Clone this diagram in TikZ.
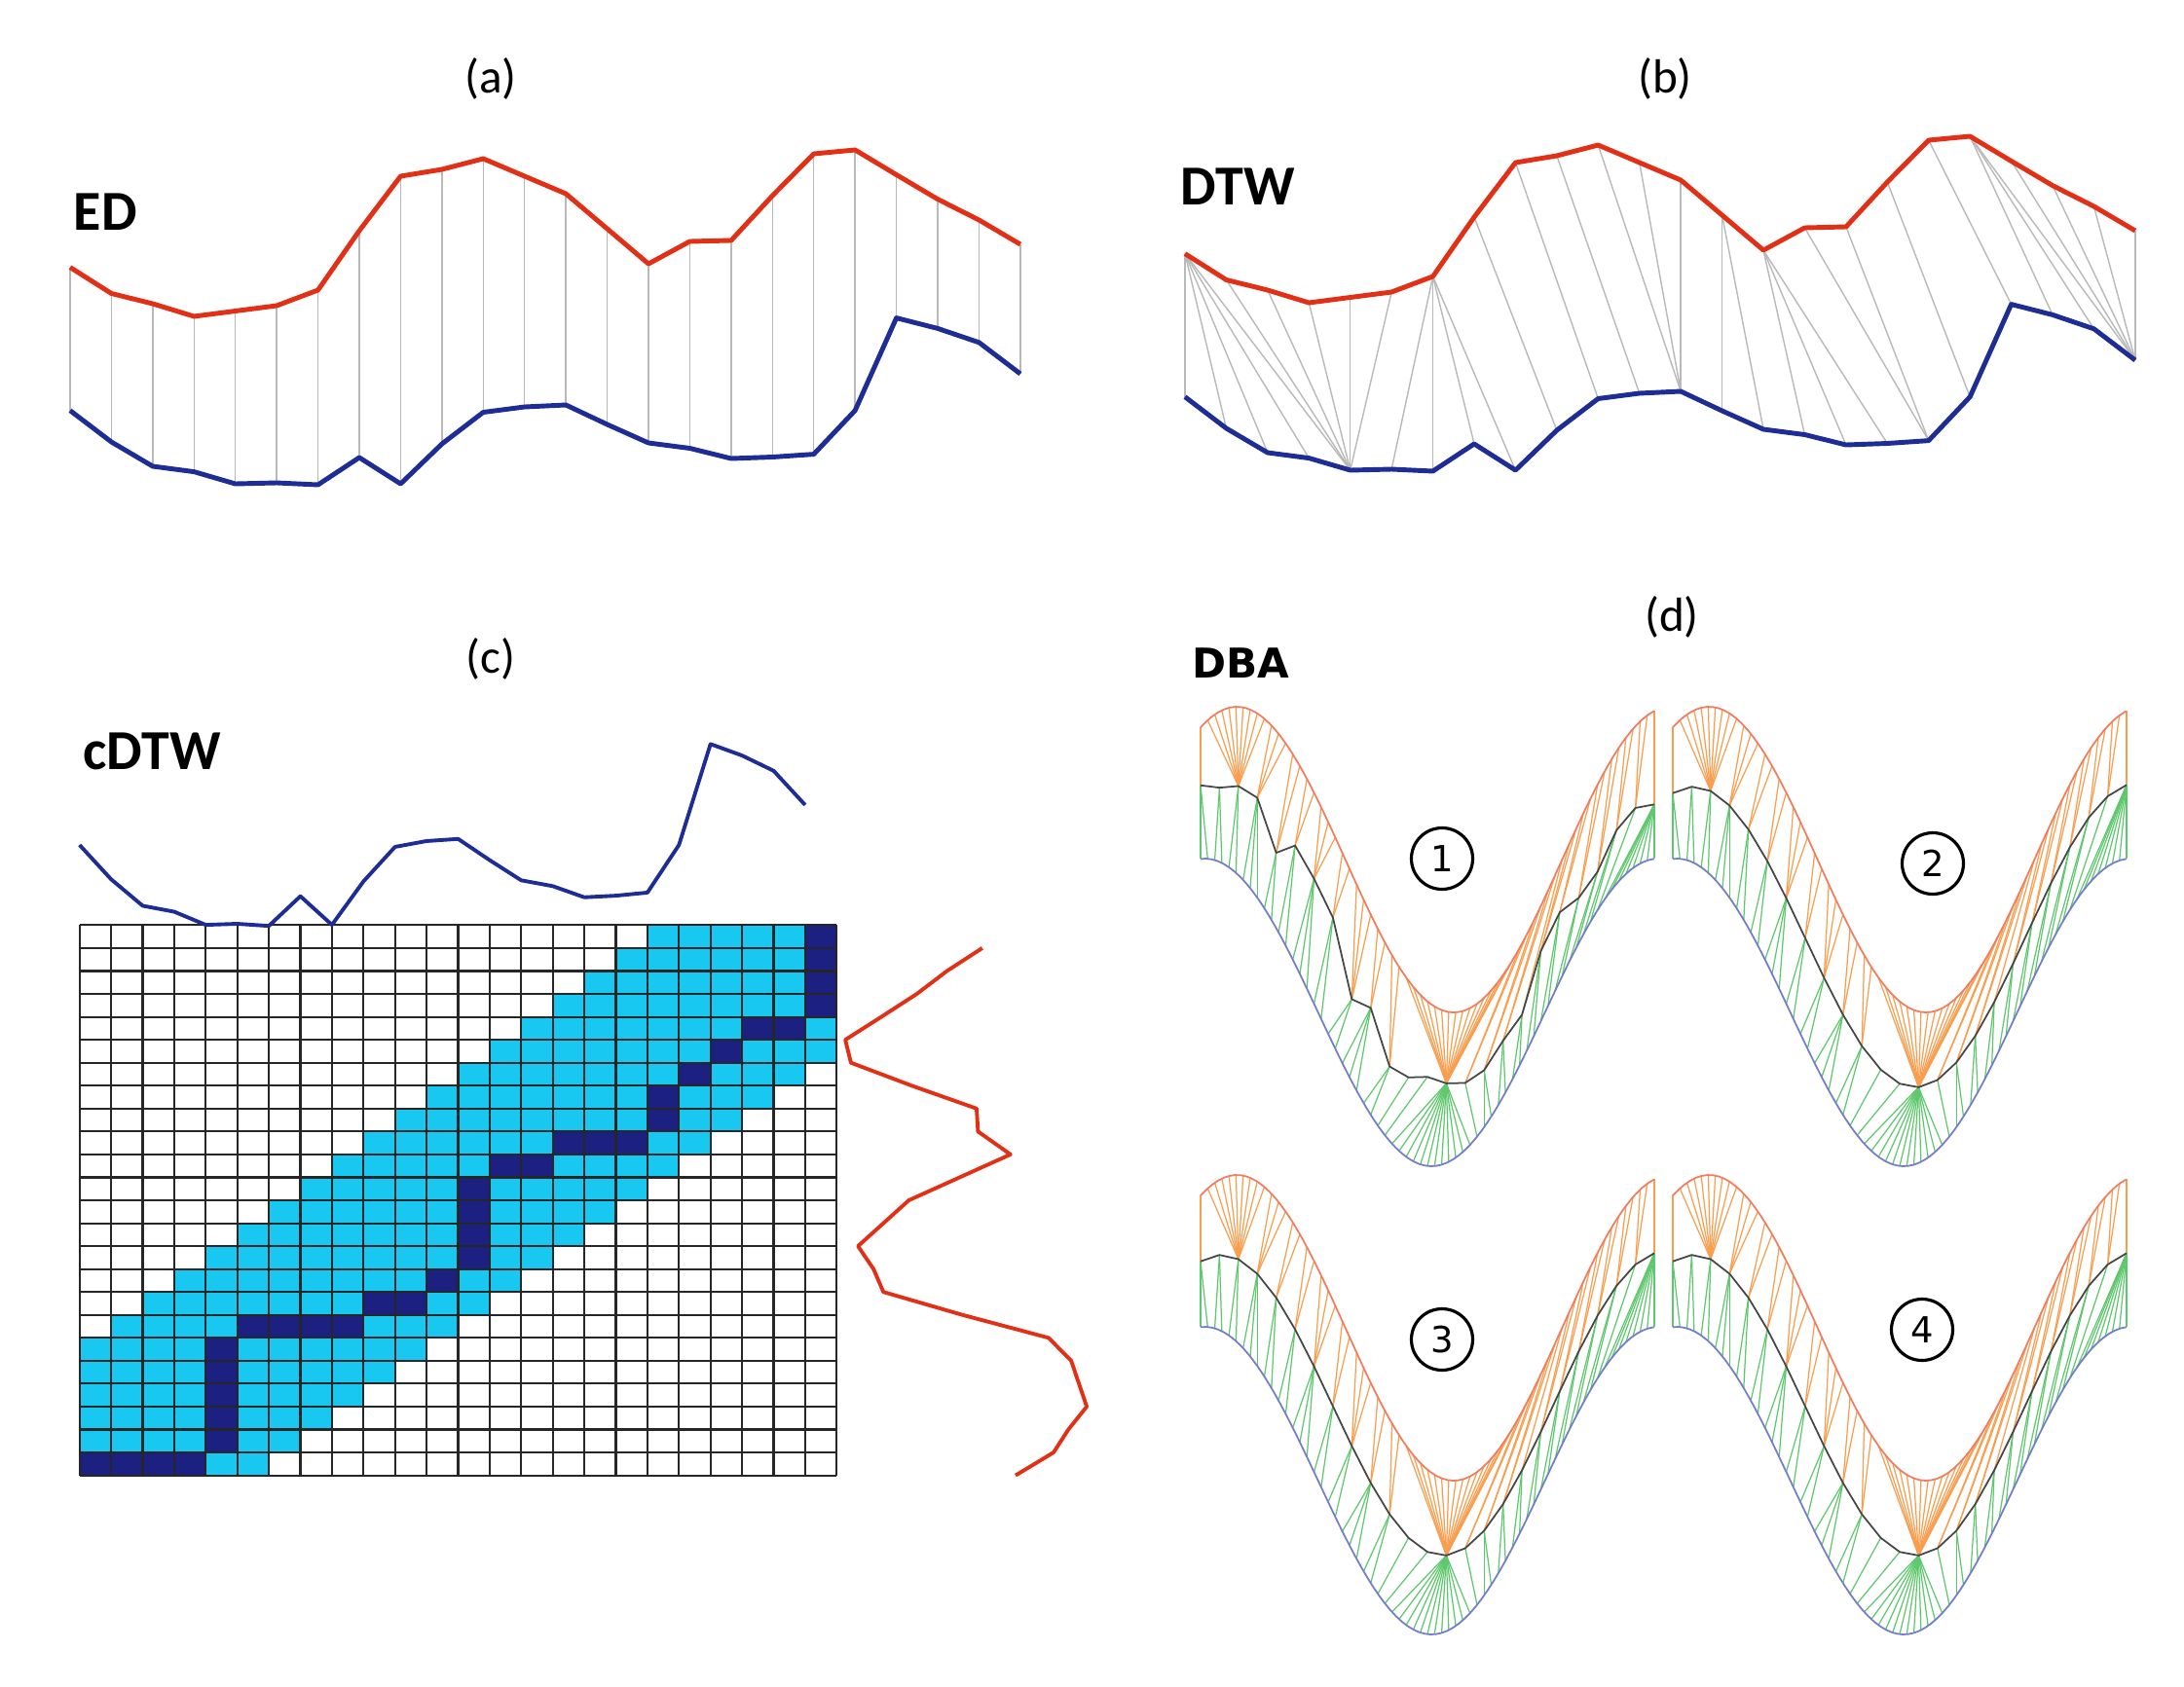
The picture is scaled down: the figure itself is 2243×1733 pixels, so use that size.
\documentclass[tikz,border=0pt]{standalone}
\usepackage{fontspec}
\setmainfont{Carlito}
\newfontfamily\dbafont{DejaVu Sans}

\definecolor{serred}{RGB}{226,48,22}
\definecolor{serblue}{RGB}{30,45,150}
\definecolor{linkgray}{RGB}{185,185,185}
\definecolor{bandcyan}{RGB}{24,200,240}
\definecolor{pathnavy}{RGB}{28,32,128}
\definecolor{dbatop}{RGB}{240,125,95}
\definecolor{dbaorange}{RGB}{248,158,78}
\definecolor{dbagreen}{RGB}{95,200,110}
\definecolor{dbabottom}{RGB}{115,125,200}
\definecolor{dbamid}{RGB}{70,70,70}

% the two series, y in picture units
\def\redvals{274.6,301.5,312,325,319.5,314,298,237,181,174,163,181,199,235,271,248,247,201,158,154,179.5,204.6,226,251}
\def\bluevals{421.7,454,479,484.6,497,496,498,470,497,456,423.5,418,416,436,455,460.5,471,469.5,466.6,421.7,326.6,337.4,351.8,384}
% jagged average in the first DBA step
\def\jaglist{-8,1,-5,-8,24,-16,-20,-21,22,-7,21,8,-7,-4,3,8,5,13,-13,-11,15,25,13,12,20}

\begin{document}
\begin{tikzpicture}[x=0.1mm,y=-0.1mm,
  declare function={
    topc(\x)=883-157*cos(376.6*(\x-0.08));
    botc(\x)=1040-158*cos(360*(\x-0.009));
    omap(\x)=4.15*min(max(\x,0),0.02)+1.087*min(max(\x-0.13,0),0.31)+12.17*min(max(\x-0.44,0),0.01)+1.432*min(max(\x-0.68,0),0.32);
    gmap(\x)=1.15*min(max(\x,0),0.4)+4.085*min(max(\x-0.4,0),0.02)+1.394*min(max(\x-0.58,0),0.3)+4*min(max(\x-0.88,0),0.01);
  }]
\tikzstyle{every node}+=[inner sep=0pt]
\tikzstyle{caption}=[font=\fontsize{14}{17}\selectfont]
\tikzstyle{method}=[font=\fontsize{16.5}{19}\selectfont\bfseries, anchor=west]
\tikzstyle{redser}=[serred, line width=1.4pt, line join=round]
\tikzstyle{blueser}=[serblue, line width=1.4pt, line join=round]
\tikzstyle{link}=[linkgray, line width=0.4pt]
\tikzstyle{gridline}=[black!85, line width=0.6pt]
\tikzstyle{orangelink}=[dbaorange, line width=0.35pt]
\tikzstyle{greenlink}=[dbagreen, line width=0.35pt]
\tikzstyle{numcirc}=[draw, circle, line width=0.9pt, minimum size=6.3mm, font=\dbafont\fontsize{10.5}{12}\selectfont]

\useasboundingbox (0,0) rectangle (2243,1733);
\fill [white] (0,0) rectangle (2243,1733);

% points of the series
\foreach \r [count=\i from 0] in \redvals {
  \coordinate (ra\i) at ({72+42.43*\i},\r);
  \coordinate (rb\i) at ({1217+42.43*\i},{\r-14});
  \coordinate (rc\i) at ({1043+1.45*(\r-274.6)},{1515.6-23.55*\i});
}
\foreach \b [count=\i from 0] in \bluevals {
  \coordinate (ba\i) at ({72+42.43*\i},\b);
  \coordinate (bb\i) at ({1217+42.43*\i},{\b-14});
  \coordinate (bc\i) at ({81.7+32.4*\i},{868+1.09*(\b-421.7)});
}

% captions
\node [caption] (capa) at (504,81) {(a)};
\node [caption] (capb) at (1710,81) {(b)};
\node [caption] (capc) at (504,677) {(c)};
\node [caption] (capd) at (1717,634) {(d)};
\node [method] (ed) at (75,218) {ED};
\node [method] (dtw) at (1212,192) {DTW};
\node [method] (cdtw) at (85,772) {cDTW};
\node [anchor=west, font=\dbafont\fontsize{12}{14}\selectfont\bfseries] (dba) at (1224,681) {DBA};

% (a) euclidean
\foreach \i in {0,...,23}
  \draw [link] (ra\i) -- (ba\i);
\draw [redser] (ra0) \foreach \i in {1,...,23} {-- (ra\i)};
\draw [blueser] (ba0) \foreach \i in {1,...,23} {-- (ba\i)};

% (b) warping path
\foreach \i/\j in {0/0,0/1,0/2,0/3,0/4,1/4,2/4,3/4,4/4,5/4,6/5,6/6,6/7,6/8,7/9,8/10,9/11,10/12,11/12,12/12,13/13,13/14,14/15,14/16,14/17,15/18,16/18,17/19,18/20,19/21,19/22,19/23,20/23,21/23,22/23,23/23}
  \draw [link] (rb\i) -- (bb\j);
\draw [redser] (rb0) \foreach \i in {1,...,23} {-- (rb\i)};
\draw [blueser] (bb0) \foreach \i in {1,...,23} {-- (bb\i)};

% (c) cost matrix with band
\foreach \r in {0,...,23} {
  \pgfmathtruncatemacro\lo{max(0,\r-5)}
  \pgfmathtruncatemacro\hi{min(23,\r+5)}
  \foreach \c in {\lo,...,\hi}
    \fill [bandcyan] ({81.7+32.4*\c},{1515.6-23.55*\r}) rectangle ({81.7+32.4*(\c+1)},{1515.6-23.55*(\r+1)});
}
\foreach \c/\r in {0/0,1/0,2/0,3/0,4/1,4/2,4/3,4/4,4/5,5/6,6/6,7/6,8/6,9/7,10/7,11/8,12/9,12/10,12/11,12/12,13/13,14/13,15/14,16/14,17/14,18/15,18/16,19/17,20/18,21/19,22/19,23/20,23/21,23/22,23/23}
  \fill [pathnavy] ({81.7+32.4*\c},{1515.6-23.55*\r}) rectangle ({81.7+32.4*(\c+1)},{1515.6-23.55*(\r+1)});
\foreach \c in {0,...,24}
  \draw [gridline] ({81.7+32.4*\c},950.4) -- ({81.7+32.4*\c},1515.6);
\foreach \r in {0,...,24}
  \draw [gridline] (81.7,{1515.6-23.55*\r}) -- (859.3,{1515.6-23.55*\r});
\draw [blueser, line width=1.1pt] (bc0) \foreach \i in {1,...,23} {-- (bc\i)};
\draw [redser, line width=1.1pt] (rc0) \foreach \i in {1,...,23} {-- (rc\i)};

% (d) four DBA steps
\foreach \p/\dx/\dy/\k in {1/0/0/1,2/485/0/0,3/0/481/0,4/485/481/0} {
\begin{scope}[shift={(\dx,\dy)}]
  \foreach \j in {0,...,24} {
    \pgfmathsetmacro\uu{\j/24}
    \pgfmathsetmacro\yy{(topc(\uu)+botc(\uu))/2+\k*{\jaglist}[\j]}
    \coordinate (m\p-\j) at ({1233+466*\uu},\yy);
  }
  \foreach \i in {0,...,64} {
    \pgfmathsetmacro\ss{\i/64}
    \pgfmathtruncatemacro\jj{round(24*omap(\ss))}
    \draw [orangelink] ({1233+466*\ss},{topc(\ss)}) -- (m\p-\jj);
    \pgfmathtruncatemacro\jj{round(24*gmap(\ss))}
    \draw [greenlink] ({1233+466*\ss},{botc(\ss)}) -- (m\p-\jj);
  }
  \draw [dbatop, line width=0.5pt] plot[domain=0:1, samples=80, variable=\s] ({1233+466*\s},{topc(\s)});
  \draw [dbabottom, line width=0.5pt] plot[domain=0:1, samples=80, variable=\s] ({1233+466*\s},{botc(\s)});
  \draw [dbamid, line width=0.5pt] (m\p-0) \foreach \j in {1,...,24} {-- (m\p-\j)};
\end{scope}
}
\node [numcirc] (step1) at (1481,882) {1};
\node [numcirc] (step2) at (1985,887) {2};
\node [numcirc] (step3) at (1481,1376) {3};
\node [numcirc] (step4) at (1974,1366) {4};
\end{tikzpicture}
\end{document}
